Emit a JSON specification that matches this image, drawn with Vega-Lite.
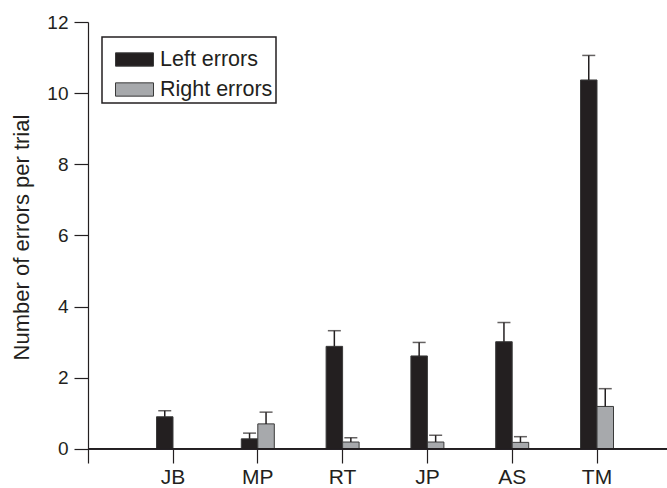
{
  "$schema": "https://vega.github.io/schema/vega-lite/v6.json",
  "autosize": {"type": "none"},
  "padding": {"left": 88, "top": 22, "right": 0, "bottom": 25},
  "width": 579,
  "height": 441,
  "background": "white",
  "config": {
    "view": {"stroke": null},
    "font": "Liberation Sans",
    "axis": {"labelFont": "Liberation Sans", "titleFont": "Liberation Sans", "labelColor": "#231f20", "titleColor": "#231f20", "domainColor": "#231f20", "tickColor": "#231f20", "grid": false},
    "legend": {"labelFont": "Liberation Sans", "labelColor": "#231f20"}
  },
  "data": {
    "values": [
      {"subject": "JB", "side": "Left errors", "value": 0.9, "upper": 1.07},
      {"subject": "MP", "side": "Left errors", "value": 0.28, "upper": 0.44},
      {"subject": "MP", "side": "Right errors", "value": 0.7, "upper": 1.03},
      {"subject": "RT", "side": "Left errors", "value": 2.88, "upper": 3.32},
      {"subject": "RT", "side": "Right errors", "value": 0.19, "upper": 0.31},
      {"subject": "JP", "side": "Left errors", "value": 2.61, "upper": 2.99},
      {"subject": "JP", "side": "Right errors", "value": 0.19, "upper": 0.38},
      {"subject": "AS", "side": "Left errors", "value": 3.01, "upper": 3.55},
      {"subject": "AS", "side": "Right errors", "value": 0.18, "upper": 0.34},
      {"subject": "TM", "side": "Left errors", "value": 10.37, "upper": 11.06},
      {"subject": "TM", "side": "Right errors", "value": 1.19, "upper": 1.69}
    ]
  },
  "layer": [
    {
      "mark": {"type": "bar", "stroke": "#3a3a3a", "strokeWidth": 1},
      "encoding": {
        "x": {
          "field": "subject",
          "type": "nominal",
          "sort": null,
          "scale": {"type": "band", "domain": ["JB", "MP", "RT", "JP", "AS", "TM"], "range": [42.6, 551.4], "paddingInner": 0, "paddingOuter": 0},
          "axis": {"title": null, "domain": false, "offset": -14, "tickSize": 14, "tickWidth": 1.2, "labelAngle": 0, "labelFontSize": 21, "labelPadding": 3}
        },
        "xOffset": {
          "field": "side",
          "type": "nominal",
          "scale": {"domain": ["Left errors", "Right errors"], "range": [25.9, 58.9], "paddingInner": 0, "paddingOuter": 0}
        },
        "y": {
          "field": "value",
          "type": "quantitative",
          "scale": {"domain": [-0.4, 12], "nice": false, "zero": false},
          "axis": {
            "title": "Number of errors per trial",
            "values": [0, 2, 4, 6, 8, 10, 12],
            "tickSize": 14,
            "tickWidth": 1.2,
            "domainWidth": 1.2,
            "labelFontSize": 19,
            "labelPadding": 6,
            "titleFontSize": 22,
            "titleFontWeight": "normal",
            "titleAngle": -90,
            "titleBaseline": "alphabetic",
            "titleAlign": "center",
            "titleX": -60,
            "titleY": 215
          }
        },
        "color": {
          "field": "side",
          "type": "nominal",
          "scale": {"domain": ["Left errors", "Right errors"], "range": ["#231f20", "#a7a9ac"]},
          "legend": {
            "title": null,
            "orient": "none",
            "legendX": 14,
            "legendY": 15,
            "direction": "vertical",
            "strokeColor": "#231f20",
            "fillColor": "white",
            "padding": 3,
            "labelFontSize": 21.5,
            "labelOffset": 6,
            "symbolOffset": 10,
            "symbolType": "M-1,-0.35H1V0.35H-1Z",
            "symbolSize": 1444,
            "symbolStrokeColor": "#3a3a3a",
            "symbolStrokeWidth": 1,
            "symbolOpacity": 1,
            "rowPadding": -4,
            "encode": {"legend": {"update": {"strokeWidth": {"value": 1.5}}}}
          }
        }
      }
    },
    {
      "mark": {"type": "rule", "color": "#231f20", "strokeWidth": 1.5},
      "encoding": {
        "x": {"field": "subject", "type": "nominal"},
        "xOffset": {"field": "side", "type": "nominal"},
        "y": {"field": "value", "type": "quantitative"},
        "y2": {"field": "upper"}
      }
    },
    {
      "mark": {"type": "tick", "color": "#231f20", "size": 13, "thickness": 1.5, "orient": "horizontal"},
      "encoding": {
        "x": {"field": "subject", "type": "nominal"},
        "xOffset": {"field": "side", "type": "nominal"},
        "y": {"field": "upper", "type": "quantitative"}
      }
    },
    {
      "mark": {"type": "rule", "color": "#231f20", "strokeWidth": 1.2},
      "encoding": {"y": {"datum": 0}}
    }
  ]
}
